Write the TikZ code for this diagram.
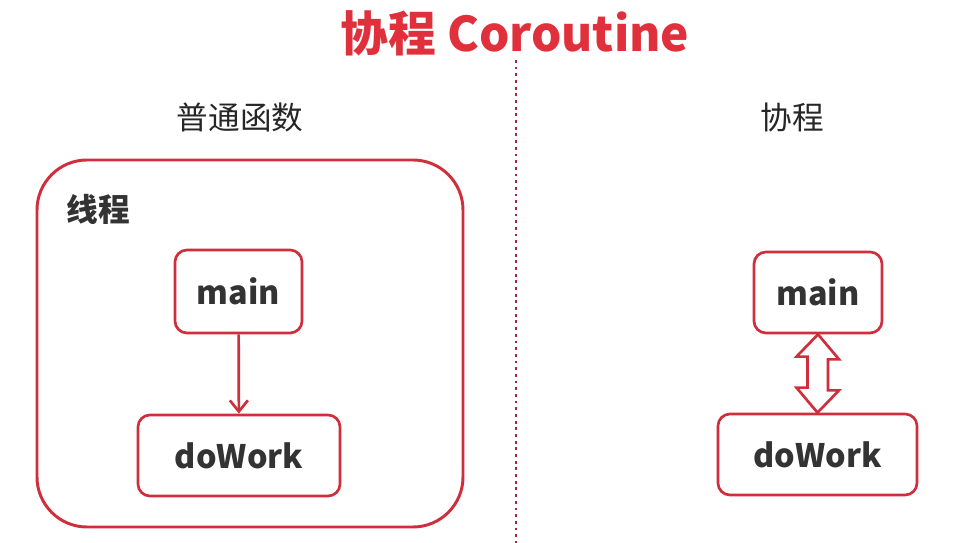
\documentclass[tikz,border=0pt]{standalone}
\usepackage{fontspec}
\setmainfont{Noto Sans CJK SC}
\usetikzlibrary{arrows.meta,shadows}

\definecolor{boxred}{RGB}{208,46,60}
\definecolor{titlered}{RGB}{224,48,60}
\definecolor{dotred}{RGB}{165,40,62}
\definecolor{txtgray}{RGB}{51,51,51}

\tikzset{
	fnbox/.style = {draw=boxred, line width=1.9pt, fill=white, rounded corners=0.3cm,
		text=txtgray, font=\bfseries\fontsize{23}{23}\selectfont,
		drop shadow={opacity=0.25, shadow xshift=0.5pt, shadow yshift=-0.5pt}},
	caption/.style = {text=black!85, font=\fontsize{22.5}{22.5}\selectfont}
}

\begin{document}
\begin{tikzpicture}[x=0.025cm, y=-0.025cm]
	\useasboundingbox (0,0) rectangle (975,543);
	% title and divider
	\node[text=titlered, font=\bfseries\fontsize{34}{34}\selectfont] (title) at (515,33) {协程 Coroutine};
	\draw[dotred, line width=2pt, dash pattern=on 2pt off 2.75pt] (516,60) -- (516,543);
	\node[caption] (plain) at (240,117) {普通函数};
	\node[caption] (coro) at (792,117) {协程};

	% left: ordinary call inside a thread
	\draw[boxred, line width=2.1pt, rounded corners=1.25cm, fill=white,
		drop shadow={opacity=0.25, shadow xshift=0.5pt, shadow yshift=-0.5pt}] (37,160) rectangle (463,527);
	\node[text=txtgray, font=\bfseries\fontsize{22.5}{22.5}\selectfont] (thread) at (98,209) {线程};
	\node[fnbox, minimum width=3.175cm, minimum height=2.075cm] (lmain) at (238.5,291.5) {main};
	\node[fnbox, minimum width=5.05cm, minimum height=2.025cm] (lwork) at (239,455.5) {doWork};
	\draw[boxred, line width=1.9pt, -{Straight Barb[length=0.28cm, width=0.45cm, line width=1.9pt]}] (lmain) -- (lwork);

	% right: coroutine
	\node[fnbox, minimum width=3.2cm, minimum height=2.025cm] (rmain) at (818,292.5) {main};
	\node[fnbox, minimum width=4.975cm, minimum height=2.025cm] (rwork) at (817.5,454.5) {doWork};
	\draw[boxred, line width=1.9pt, fill=white, line join=miter] (rmain.south) -- ++(21,25) -- ++(-11,0) -- ++(0,31) -- ++(11,0)
		-- (rwork.north) -- ++(-21,-25) -- ++(11,0) -- ++(0,-31) -- ++(-11,0) -- cycle;
\end{tikzpicture}
\end{document}
